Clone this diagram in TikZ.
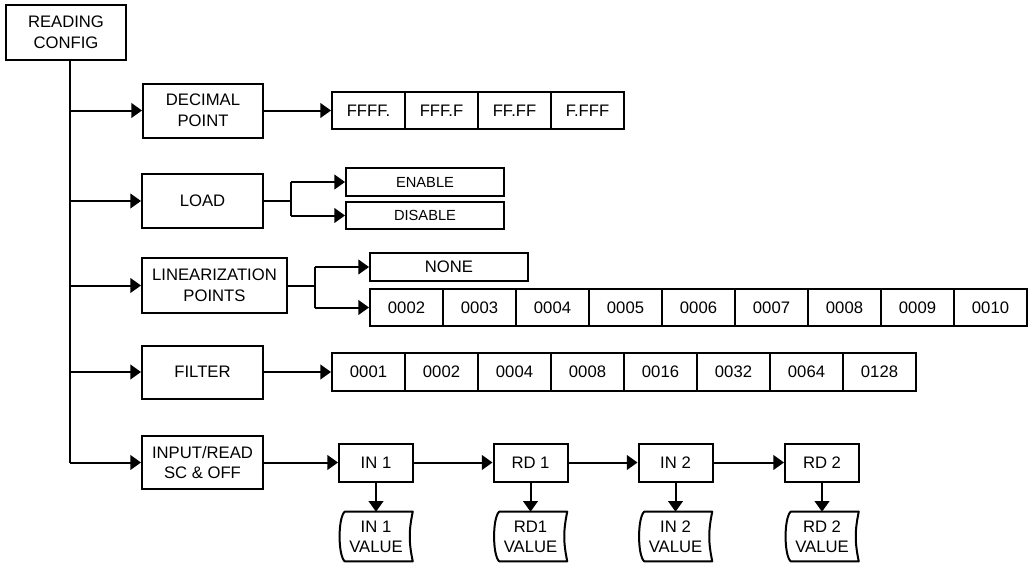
\documentclass[tikz,border=0pt]{standalone}
\usepackage{fontspec}
\setmainfont{Liberation Sans}
\usetikzlibrary{arrows.meta}
\begin{document}
\begin{tikzpicture}[x=0.75pt,y=-0.75pt,
  every node/.style={font=\fontsize{12.5}{15.5}\selectfont, inner sep=0pt, align=center},
  box/.style={draw, line width=1.5pt},
  cell/.style={draw, line width=1.5pt, minimum width=54.75pt, minimum height=27.75pt},
  smallbox/.style={draw, line width=1.5pt, minimum width=118.5pt, minimum height=21pt, font=\fontsize{11}{12}\selectfont},
  stepnode/.style={draw, line width=1.5pt, minimum width=55.5pt, minimum height=28.5pt},
  valnode/.style={minimum width=54.75pt, minimum height=36.75pt, font=\fontsize{12.5}{15}\selectfont},
  conn/.style={line width=1.5pt},
  arr/.style={conn, -{Triangle[length=8pt,width=11pt]}},
  valshape/.style={line width=1.5pt}
]
\useasboundingbox (0,0) rectangle (1031,564);

% main boxes
\node[box, minimum width=90pt, minimum height=41.25pt] (rc) at (66,32.5) {READING\\CONFIG};
\node[box, minimum width=90pt, minimum height=40.5pt] (dp) at (203,110.5) {DECIMAL\\POINT};
\node[box, minimum width=90.75pt, minimum height=40.5pt] (load) at (202.5,201) {LOAD};
\node[box, minimum width=108.75pt, minimum height=41.25pt] (lin) at (214.5,285.5) {LINEARIZATION\\POINTS};
\node[box, minimum width=90.75pt, minimum height=39.75pt] (filter) at (202.5,372) {FILTER};
\node[box, minimum width=90.75pt, minimum height=39.75pt] (inp) at (202.5,462.5) {INPUT/READ\\SC \& OFF};

% trunk
\coordinate (t) at (70,462.5);
\draw[conn] (rc.south -| t) -- (t);
\draw[arr] (t |- dp.west) -- (dp.west);
\draw[arr] (t |- load.west) -- (load.west);
\draw[arr] (t |- lin.west) -- (lin.west);
\draw[arr] (t |- filter.west) -- (filter.west);
\draw[arr] (t) -- (inp.west);

% decimal point options
\foreach \t [count=\i] in {FFFF.,FFF.F,FF.FF,F.FFF}
  \node[cell] (dp\i) at ({368.5+73*(\i-1)},110.5) {\t};
\draw[arr] (dp.east) -- (dp1.west);

% load options
\node[smallbox] (en) at (425,182) {ENABLE};
\node[smallbox, minimum height=20.25pt] (dis) at (425,215.5) {DISABLE};
\coordinate (lj) at (291,201);
\draw[conn] (load.east) -- (lj);
\draw[conn] (lj |- en.west) -- (lj |- dis.west);
\draw[arr] (lj |- en.west) -- (en.west);
\draw[arr] (lj |- dis.west) -- (dis.west);

% linearization options
\node[box, minimum width=118.5pt, minimum height=21pt] (none) at (449,267) {NONE};
\foreach \t [count=\i] in {0002,0003,0004,0005,0006,0007,0008,0009,0010}
  \node[cell] (ln\i) at ({406.5+73*(\i-1)},307.5) {\t};
\coordinate (nj) at (315,285.5);
\draw[conn] (lin.east) -- (nj);
\draw[conn] (nj |- none.west) -- (nj |- ln1.west);
\draw[arr] (nj |- none.west) -- (none.west);
\draw[arr] (nj |- ln1.west) -- (ln1.west);

% filter options
\foreach \t [count=\i] in {0001,0002,0004,0008,0016,0032,0064,0128}
  \node[cell, minimum height=28.5pt] (f\i) at ({368.5+73*(\i-1)},372) {\t};
\draw[arr] (filter.east) -- (f1.west);

% input/read chain
\node[stepnode] (in1) at (376,462.5) {IN 1};
\node[stepnode] (rd1) at (530.5,462.5) {RD 1};
\node[stepnode] (in2) at (675.5,462.5) {IN 2};
\node[stepnode] (rd2) at (822,462.5) {RD 2};
\draw[arr] (inp.east) -- (in1.west);
\draw[arr] (in1.east) -- (rd1.west);
\draw[arr] (rd1.east) -- (in2.west);
\draw[arr] (in2.east) -- (rd2.west);

% value nodes
\node[valnode] (v1) at (376,536.5) {IN 1\\VALUE};
\node[valnode] (v2) at (530.5,536.5) {RD1\\VALUE};
\node[valnode] (v3) at (675.5,536.5) {IN 2\\VALUE};
\node[valnode] (v4) at (822,536.5) {RD 2\\VALUE};
\foreach \v in {v1,v2,v3,v4}{
  \draw[valshape, line join=round] ([xshift=4pt]\v.north west) -- (\v.north east)
     to[bend right=12] (\v.south east) -- ([xshift=4pt]\v.south west)
     .. controls ([xshift=-1pt,yshift=5pt]\v.south west) and ([xshift=-1pt,yshift=-5pt]\v.north west) .. ([xshift=4pt]\v.north west) -- cycle;
}
\draw[arr] (in1.south) -- (v1.north);
\draw[arr] (rd1.south) -- (v2.north);
\draw[arr] (in2.south) -- (v3.north);
\draw[arr] (rd2.south) -- (v4.north);
\end{tikzpicture}
\end{document}
